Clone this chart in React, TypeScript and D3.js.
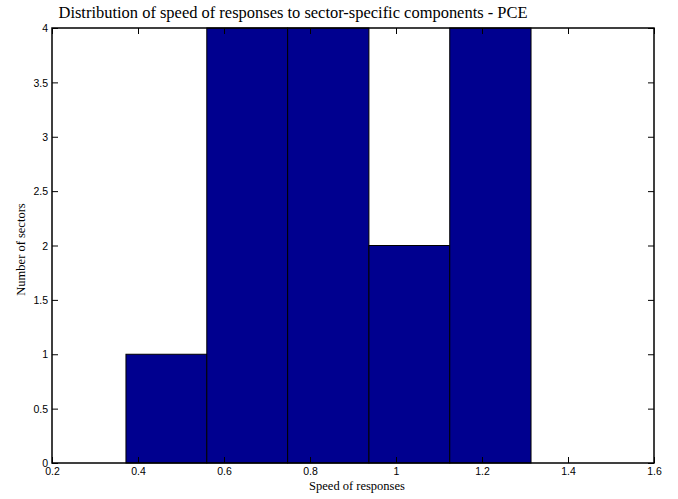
import { useRef, useEffect } from 'react';
import * as d3 from 'd3';

const binEdges = [0.372, 0.560, 0.748, 0.937, 1.125, 1.314];
const counts = [1, 4, 4, 2, 4];
const xTicks = [0.2, 0.4, 0.6, 0.8, 1, 1.2, 1.4, 1.6];
const yTicks = [0, 0.5, 1, 1.5, 2, 2.5, 3, 3.5, 4];

const TITLE = 'Distribution of speed of responses to sector-specific components - PCE';
const XLABEL = 'Speed of responses';
const YLABEL = 'Number of sectors';

export default function App() {
  const svgRef = useRef<SVGSVGElement>(null);

  useEffect(() => {
    const W = 678, H = 499;
    const m = { top: 28, right: 24, bottom: 36, left: 52 };
    const x = d3.scaleLinear().domain([0.2, 1.6]).range([m.left, W - m.right]);
    const y = d3.scaleLinear().domain([0, 4]).range([H - m.bottom, m.top]);

    const svg = d3.select(svgRef.current);
    svg.selectAll('*').remove();
    svg.append('rect').attr('width', W).attr('height', H).attr('fill', '#fff');

    // bars
    const bins = counts.map((c, i) => ({ x0: binEdges[i], x1: binEdges[i + 1], c }));
    svg.append('g').selectAll('rect').data(bins).join('rect')
      .attr('x', d => x(d.x0))
      .attr('y', d => y(d.c))
      .attr('width', d => x(d.x1) - x(d.x0))
      .attr('height', d => y(0) - y(d.c))
      .attr('fill', '#00008f')
      .attr('stroke', '#000').attr('stroke-width', 1);

    const font = '"Liberation Sans", Arial, sans-serif';
    const tk = 6;

    // ticks on all four sides (inward), labels on bottom and left
    const bottom = svg.append('g').attr('transform', `translate(0,${y(0)})`)
      .call(d3.axisBottom(x).tickValues(xTicks).tickSize(-tk).tickPadding(6).tickFormat(d3.format('')));
    const top = svg.append('g').attr('transform', `translate(0,${y(4)})`)
      .call(d3.axisTop(x).tickValues(xTicks).tickSize(-tk).tickFormat(() => ''));
    const left = svg.append('g').attr('transform', `translate(${x(0.2)},0)`)
      .call(d3.axisLeft(y).tickValues(yTicks).tickSize(-tk).tickPadding(4).tickFormat(d3.format('')));
    const right = svg.append('g').attr('transform', `translate(${x(1.6)},0)`)
      .call(d3.axisRight(y).tickValues(yTicks).tickSize(-tk).tickFormat(() => ''));

    [bottom, top, left, right].forEach(a => {
      a.select('.domain').remove();
      a.selectAll('.tick line').attr('stroke', '#000').attr('stroke-width', 1);
      a.selectAll('text').attr('fill', '#000').attr('font-size', 10.5).attr('font-family', font);
    });
    bottom.selectAll('text').attr('dy', '0.55em');
    left.selectAll('text').attr('dy', '0.35em');

    // frame
    svg.append('rect')
      .attr('x', x(0.2)).attr('y', y(4))
      .attr('width', x(1.6) - x(0.2)).attr('height', y(0) - y(4))
      .attr('fill', 'none').attr('stroke', '#000').attr('stroke-width', 1.5);

    const serif = '"Liberation Serif", "Times New Roman", serif';
    svg.append('text').attr('x', 293).attr('y', 18)
      .attr('text-anchor', 'middle').attr('font-family', serif).attr('font-size', 16)
      .attr('textLength', 469).attr('lengthAdjust', 'spacingAndGlyphs')
      .text(TITLE);
    svg.append('text').attr('x', (x(0.2) + x(1.6)) / 2 + 4).attr('y', 490)
      .attr('text-anchor', 'middle').attr('font-family', serif).attr('font-size', 12.5)
      .text(XLABEL);
    svg.append('text').attr('transform', `translate(25,${(y(0) + y(4)) / 2 + 4}) rotate(-90)`)
      .attr('text-anchor', 'middle').attr('font-family', serif).attr('font-size', 12.5)
      .text(YLABEL);
  }, []);

  return (
    <div style={{ position: 'absolute', left: 0, top: 0, width: 678, height: 499 }}>
      <svg ref={svgRef} width={678} height={499} style={{ display: 'block' }} />
    </div>
  );
}
